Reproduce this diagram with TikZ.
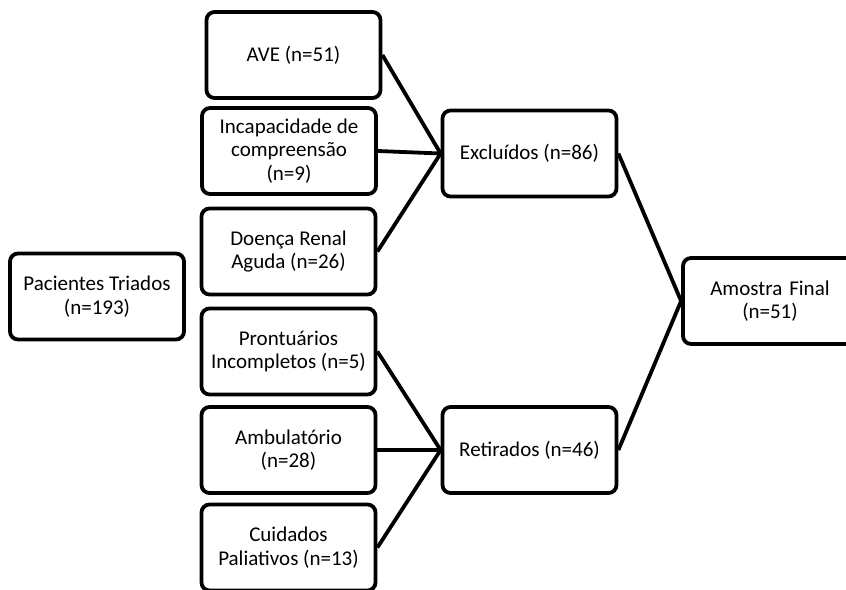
\documentclass[tikz,border=0pt]{standalone}
\usepackage{fontspec}
\setmainfont{Carlito}
\usepackage{xcolor}

\begin{document}
\begin{tikzpicture}[x=1pt,y=-1pt,
    caixa/.style={draw,line width=3.8pt,rounded corners=8pt,minimum width=174pt,minimum height=86pt,align=center,font=\fontsize{21}{23.5}\selectfont},
    liga/.style={line width=3.8pt}]
    \useasboundingbox (0,0) rectangle (846,589);

    \node[caixa] (triados) at (97,296.5) {Pacientes Triados\\(n=193)};

    \node[caixa] (ave) at (293.5,55) {AVE (n=51)};
    \node[caixa] (incap) at (289,151) {Incapacidade de\\compreensão\\(n=9)};
    \node[caixa] (renal) at (288.5,251.5) {Doença Renal\\Aguda (n=26)};
    \node[caixa] (pront) at (288.5,351.5) {Prontuários\\Incompletos (n=5)};
    \node[caixa] (ambul) at (288.5,450) {Ambulatório\\(n=28)};
    \node[caixa] (paliat) at (288.5,547.5) {Cuidados\\Paliativos (n=13)};

    \node[caixa] (excl) at (529.5,153.5) {Excluídos (n=86)};
    \node[caixa] (retir) at (529.5,450) {Retirados (n=46)};

    \node[caixa,text width=160pt] (final) at (770,301) {Amostra Final\\(n=51)};

    \draw[liga] (ave.east) -- (excl.west);
    \draw[liga] (incap.east) -- (excl.west);
    \draw[liga] (renal.east) -- (excl.west);

    \draw[liga] (pront.east) -- (retir.west);
    \draw[liga] (ambul.east) -- (retir.west);
    \draw[liga] (paliat.east) -- (retir.west);

    \draw[liga] (excl.east) -- (final.west);
    \draw[liga] (retir.east) -- (final.west);
\end{tikzpicture}
\end{document}
